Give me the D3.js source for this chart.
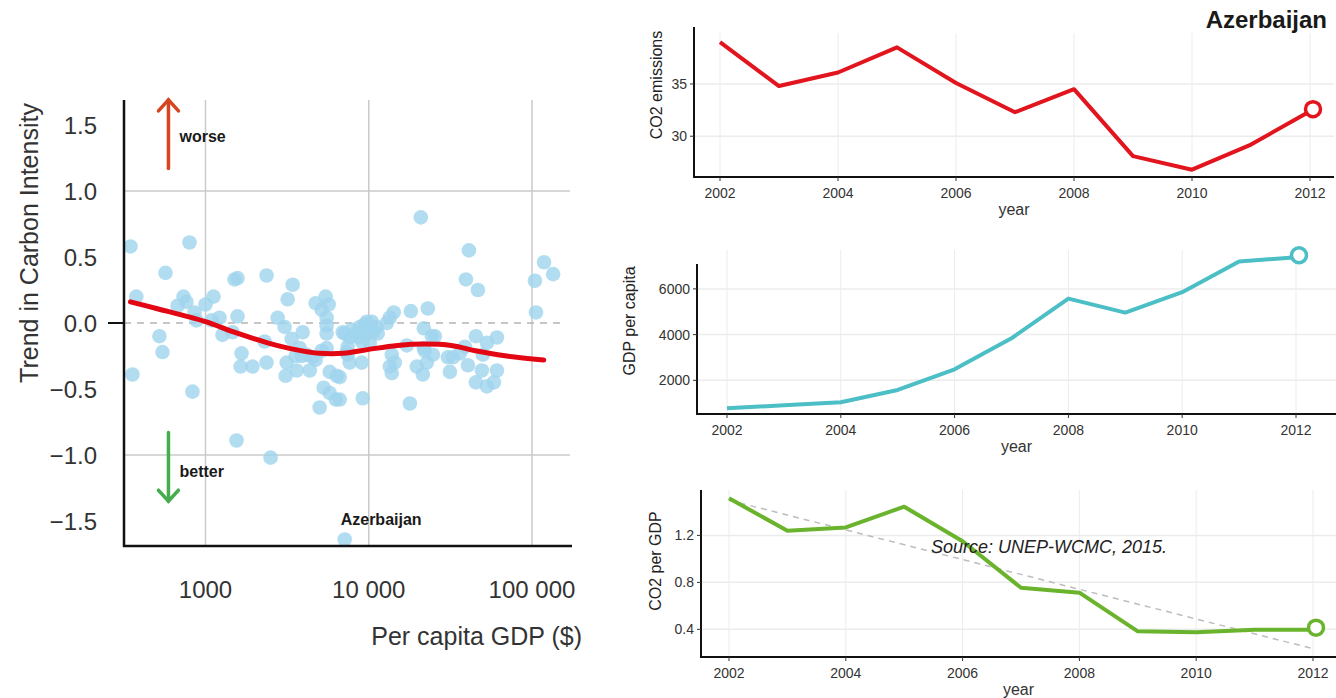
<!DOCTYPE html>
<html>
<head>
<meta charset="utf-8">
<script src="https://cdn.jsdelivr.net/npm/d3@7"></script>
<style>
  body { margin: 0; background: #fff; }
  svg text { font-family: "Liberation Sans", Arial, sans-serif; }
</style>
</head>
<body>
<svg id="chart" width="1336" height="698"></svg>
<script>
// scatter: per capita GDP ($) vs trend in carbon intensity
const gdp = [
  347, 798, 569, 377, 733, 764, 674, 857, 881, 1000,
  1120, 1089, 1219, 1271, 522, 545, 357, 832, 1506, 1571,
  2366, 3420, 3186, 4729, 5446, 5684, 5150, 5521, 5521, 5521,
  5521, 7123, 1571, 1465, 2767, 3053, 3938, 3371, 2300, 1663,
  1640, 1941, 2366, 3141, 3097, 3616, 3882, 4350, 4729, 5150,
  5764, 6366, 5296, 5764, 6278, 5004, 3567, 4167, 3776, 4531,
  20840, 41070, 39380, 46630, 104200, 118500, 134700, 105800, 9187, 17860,
  7860, 7640, 8805, 9450, 10430, 11200, 11350, 9860, 8805, 7325,
  7640, 9057, 7430, 13840, 13450, 14450, 13840, 17110, 18110, 14230,
  13450, 12890, 23010, 21740, 24360, 25410, 21740, 24720, 22700, 19690,
  21430, 31410, 30530, 36150, 38820, 45310, 52940, 60980, 40500, 50030,
  49330, 60980, 45310, 52940, 58440, 1549, 2504, 7123, 6640, 6925,
  9726, 10590, 10140, 9057, 7430, 6640, 8203, 32770, 22060
];
const trend = [
  0.58, 0.61, 0.38, 0.20, 0.20, 0.16, 0.13, 0.08, 0.02, 0.14,
  0.20, 0.02, 0.04, -0.09, -0.10, -0.22, -0.39, -0.52, 0.33, 0.34,
  0.36, 0.29, 0.18, 0.15, 0.20, 0.14, 0.10, 0.04, -0.02, -0.08,
  -0.19, -0.08, 0.05, -0.07, 0.04, -0.03, -0.07, -0.12, -0.14, -0.23,
  -0.33, -0.33, -0.30, -0.30, -0.40, -0.36, -0.25, -0.36, -0.28, -0.21,
  -0.37, -0.40, -0.49, -0.53, -0.58, -0.64, -0.25, -0.24, -0.19, -0.26,
  0.80, 0.55, 0.33, 0.25, 0.32, 0.46, 0.37, 0.08, -0.57, -0.61,
  -0.05, -0.11, -0.03, -0.01, 0.01, -0.03, -0.08, -0.08, -0.11, -0.22,
  -0.30, -0.30, -0.24, -0.24, -0.33, -0.30, -0.38, -0.17, 0.09, 0.08,
  0.04, 0.00, 0.11, -0.04, -0.10, -0.10, -0.19, -0.24, -0.30, -0.33,
  -0.39, -0.37, -0.26, -0.23, -0.18, -0.10, -0.15, -0.11, -0.32, -0.24,
  -0.36, -0.36, -0.45, -0.48, -0.45, -0.89, -1.02, -1.64, -0.58, -0.07,
  0.01, -0.07, -0.15, -0.14, -0.18, -0.41, -0.09, -0.26, -0.21
];
// smoothed fit (red curve)
const smoothGdp = [347, 500, 1000, 1500, 2400, 3500, 5000, 7000, 10000, 15000, 22000, 32000, 45000, 70000, 118000];
const smoothTrend = [0.16, 0.11, 0.01, -0.07, -0.15, -0.20, -0.23, -0.23, -0.20, -0.17, -0.16, -0.17, -0.21, -0.25, -0.28];
const highlight = { name: "Azerbaijan", gdp: 7123, trend: -1.64 };

const yTicks = [1.5, 1.0, 0.5, 0.0, -0.5, -1.0, -1.5];
const xTicks = [1000, 10000, 100000];
const xTickLabels = ["1000", "10 000", "100 000"];

// country time series
const years = [2002, 2003, 2004, 2005, 2006, 2007, 2008, 2009, 2010, 2011, 2012];
const co2Emissions = [39.0, 34.8, 36.1, 38.5, 35.1, 32.3, 34.5, 28.1, 26.8, 29.2, 32.4];
const gdpPerCapita = [774, 905, 1036, 1577, 2482, 3839, 5577, 4964, 5854, 7197, 7387];
const co2PerGdp = [1.516, 1.24, 1.268, 1.445, 1.15, 0.754, 0.712, 0.383, 0.374, 0.397, 0.397];
const co2PerGdpFit = [1.50, 0.235]; // linear fit at 2002 and 2012
const yearTicks = [2002, 2004, 2006, 2008, 2010, 2012];

const svg = d3.select("#chart");

// ---------------- left scatter ----------------
const x = d3.scaleLog().domain([1000, 100000]).range([205.5, 532]);
const y = d3.scaleLinear().domain([-1.5, 1.5]).range([521, 125]);
const plotL = 124, plotR = 572, plotT = 100, plotB = 546;

const left = svg.append("g");

left.selectAll(".hgrid")
  .data([1, -1])
  .enter().append("line")
  .attr("x1", plotL).attr("x2", plotR - 2)
  .attr("y1", d => y(d)).attr("y2", d => y(d))
  .attr("stroke", "#cacaca").attr("stroke-width", 1.5);

left.selectAll(".vgrid")
  .data(xTicks)
  .enter().append("line")
  .attr("x1", d => x(d)).attr("x2", d => x(d))
  .attr("y1", plotT).attr("y2", plotB)
  .attr("stroke", "#cacaca").attr("stroke-width", 1.5);

left.append("line")
  .attr("x1", plotL).attr("x2", plotR - 6)
  .attr("y1", y(0)).attr("y2", y(0))
  .attr("stroke", "#b4b4b4").attr("stroke-width", 1.5)
  .attr("stroke-dasharray", "7,6");

const points = gdp.map((g, i) => ({ gdp: g, trend: trend[i] }));
left.selectAll(".dot")
  .data(points)
  .enter().append("circle")
  .attr("class", "dot")
  .attr("r", 7.3)
  .attr("cx", d => x(d.gdp))
  .attr("cy", d => y(d.trend))
  .style("fill", "#9fd4ee")
  .style("opacity", 0.8);

const smooth = smoothGdp.map((g, i) => ({ gdp: g, trend: smoothTrend[i] }));
left.append("path")
  .datum(smooth)
  .attr("fill", "none")
  .attr("stroke", "#e30613")
  .attr("stroke-width", 5)
  .attr("stroke-linecap", "round")
  .attr("d", d3.line().curve(d3.curveCatmullRom).x(d => x(d.gdp)).y(d => y(d.trend)));

// axes
left.append("line")
  .attr("x1", plotL).attr("x2", plotL).attr("y1", plotT).attr("y2", plotB + 1)
  .attr("stroke", "#111").attr("stroke-width", 2.5);
left.append("line")
  .attr("x1", plotL - 1).attr("x2", plotR).attr("y1", plotB).attr("y2", plotB)
  .attr("stroke", "#111").attr("stroke-width", 2.5);
left.append("line")
  .attr("x1", plotL - 16).attr("x2", plotL).attr("y1", y(0)).attr("y2", y(0))
  .attr("stroke", "#111").attr("stroke-width", 2);

left.selectAll(".ytick")
  .data(yTicks)
  .enter().append("text")
  .attr("x", 97)
  .attr("y", d => y(d))
  .attr("dy", "0.36em")
  .attr("text-anchor", "end")
  .style("font-size", "24px")
  .style("fill", "#333")
  .text(d => d3.format(".1f")(d).replace("-", "\u2212"));

left.selectAll(".xtick")
  .data(xTicks)
  .enter().append("text")
  .attr("x", d => x(d))
  .attr("y", 598)
  .attr("text-anchor", "middle")
  .style("font-size", "24px")
  .style("fill", "#333")
  .text((d, i) => xTickLabels[i]);

left.append("text")
  .attr("x", 582).attr("y", 645)
  .attr("text-anchor", "end")
  .style("font-size", "25px")
  .style("fill", "#333")
  .text("Per capita GDP ($)");

left.append("text")
  .attr("transform", "translate(38,243) rotate(-90)")
  .attr("text-anchor", "middle")
  .style("font-size", "25px")
  .style("fill", "#333")
  .text("Trend in Carbon Intensity");

// worse / better arrows
function arrow(g, x0, yFrom, yTo, color) {
  const dir = yTo < yFrom ? 1 : -1;
  g.append("line")
    .attr("x1", x0).attr("x2", x0).attr("y1", yFrom).attr("y2", yTo)
    .attr("stroke", color).attr("stroke-width", 3.5).attr("stroke-linecap", "round");
  g.append("path")
    .attr("d", `M${x0 - 10},${yTo + dir * 11} L${x0},${yTo} L${x0 + 10},${yTo + dir * 11}`)
    .attr("fill", "none").attr("stroke", color).attr("stroke-width", 3.5)
    .attr("stroke-linecap", "round").attr("stroke-linejoin", "miter");
}
arrow(left, x(593), y(1.17), y(1.69), "#d5451f");
arrow(left, x(593), y(-0.83), y(-1.35), "#46ad4f");

left.append("text")
  .attr("x", x(693)).attr("y", y(1.37))
  .style("font-size", "16px").style("font-weight", "bold").style("fill", "#1a1a1a")
  .text("worse");
left.append("text")
  .attr("x", x(693)).attr("y", y(-1.17))
  .style("font-size", "16px").style("font-weight", "bold").style("fill", "#1a1a1a")
  .text("better");
left.append("text")
  .attr("x", x(highlight.gdp) - 4).attr("y", y(highlight.trend) - 14)
  .style("font-size", "16px").style("font-weight", "bold").style("fill", "#1a1a1a")
  .text(highlight.name);

// ---------------- right panels ----------------
function panel(cfg) {
  const g = svg.append("g");
  const px = d3.scaleLinear().domain([2002, 2012]).range([cfg.x2002, cfg.x2012]);
  const py = d3.scaleLinear().domain(cfg.yDomain).range([cfg.bottom, cfg.top]);

  // grid
  g.selectAll(".vg").data(yearTicks).enter().append("line")
    .attr("x1", d => px(d)).attr("x2", d => px(d))
    .attr("y1", cfg.gridTop).attr("y2", cfg.bottom)
    .attr("stroke", "#ececec").attr("stroke-width", 1);
  g.selectAll(".hg").data(cfg.ticks).enter().append("line")
    .attr("x1", cfg.left).attr("x2", cfg.right)
    .attr("y1", d => py(d)).attr("y2", d => py(d))
    .attr("stroke", "#ececec").attr("stroke-width", 1.5);

  if (cfg.fit) {
    g.append("line")
      .attr("x1", px(2002)).attr("x2", px(2012))
      .attr("y1", py(cfg.fit[0])).attr("y2", py(cfg.fit[1]))
      .attr("stroke", "#bdbdbd").attr("stroke-width", 1.5)
      .attr("stroke-dasharray", "6,5");
  }

  const series = years.map((yr, i) => ({ year: yr, value: cfg.values[i] }));
  g.append("path")
    .datum(series)
    .attr("fill", "none")
    .attr("stroke", cfg.color)
    .attr("stroke-width", 4)
    .attr("stroke-linejoin", "round")
    .attr("d", d3.line().x(d => px(d.year)).y(d => py(d.value)));

  const last = series[series.length - 1];
  g.append("circle")
    .attr("cx", px(last.year) + 3)
    .attr("cy", py(last.value) - 2)
    .attr("r", 7.5)
    .attr("fill", "#fff")
    .attr("stroke", cfg.color)
    .attr("stroke-width", 3.5);

  // axes
  g.append("line")
    .attr("x1", cfg.left).attr("x2", cfg.left).attr("y1", cfg.top).attr("y2", cfg.bottom)
    .attr("stroke", "#111").attr("stroke-width", 2);
  g.append("line")
    .attr("x1", cfg.left - 1).attr("x2", cfg.right).attr("y1", cfg.bottom).attr("y2", cfg.bottom)
    .attr("stroke", "#111").attr("stroke-width", 2);

  g.selectAll(".yt").data(cfg.ticks).enter().append("line")
    .attr("x1", cfg.left - 4).attr("x2", cfg.left)
    .attr("y1", d => py(d)).attr("y2", d => py(d))
    .attr("stroke", "#333");
  g.selectAll(".ytl").data(cfg.ticks).enter().append("text")
    .attr("x", cfg.left - 7)
    .attr("y", d => py(d))
    .attr("dy", "0.35em")
    .attr("text-anchor", "end")
    .style("font-size", "14px").style("fill", "#333")
    .text(d => cfg.format(d));

  g.selectAll(".xt").data(yearTicks).enter().append("line")
    .attr("x1", d => px(d)).attr("x2", d => px(d))
    .attr("y1", cfg.bottom).attr("y2", cfg.bottom + 4)
    .attr("stroke", "#333");
  g.selectAll(".xtl").data(yearTicks).enter().append("text")
    .attr("x", d => px(d))
    .attr("y", cfg.bottom + 21)
    .attr("text-anchor", "middle")
    .style("font-size", "14px").style("fill", "#333")
    .text(d => d);

  g.append("text")
    .attr("x", (cfg.left + cfg.right) / 2)
    .attr("y", cfg.bottom + 38)
    .attr("text-anchor", "middle")
    .style("font-size", "16px").style("fill", "#333")
    .text("year");

  g.append("text")
    .attr("transform", `translate(${cfg.labelX},${cfg.labelY}) rotate(-90)`)
    .attr("text-anchor", "middle")
    .style("font-size", "16px").style("fill", "#222")
    .text(cfg.label);

  return g;
}

panel({
  values: co2Emissions, color: "#e2141d", label: "CO2 emissions",
  left: 694, right: 1334, x2002: 720, x2012: 1310,
  top: 27, bottom: 177, gridTop: 33, yDomain: [26.1, 40.45],
  ticks: [30, 35], format: d3.format("d"), labelX: 662, labelY: 85
});

panel({
  values: gdpPerCapita, color: "#4bbfc5", label: "GDP per capita",
  left: 697, right: 1336, x2002: 727, x2012: 1296,
  top: 264, bottom: 414, gridTop: 250, yDomain: [525, 7090],
  ticks: [2000, 4000, 6000], format: d3.format("d"), labelX: 635, labelY: 321
});

panel({
  values: co2PerGdp, color: "#6ab42d", label: "CO2 per GDP", fit: co2PerGdpFit,
  left: 701, right: 1336, x2002: 729, x2012: 1313,
  top: 490, bottom: 657, gridTop: 490, yDomain: [0.164, 1.587],
  ticks: [0.4, 0.8, 1.2], format: d3.format(".1f"), labelX: 661, labelY: 561
});

svg.append("text")
  .attr("x", 1327).attr("y", 28)
  .attr("text-anchor", "end")
  .style("font-size", "24px").style("font-weight", "bold").style("fill", "#1a1a1a")
  .text(highlight.name);

svg.append("text")
  .attr("x", 931).attr("y", 553)
  .style("font-size", "18px").style("font-style", "italic").style("fill", "#222")
  .text("Source: UNEP-WCMC, 2015.");
</script>
</body>
</html>
